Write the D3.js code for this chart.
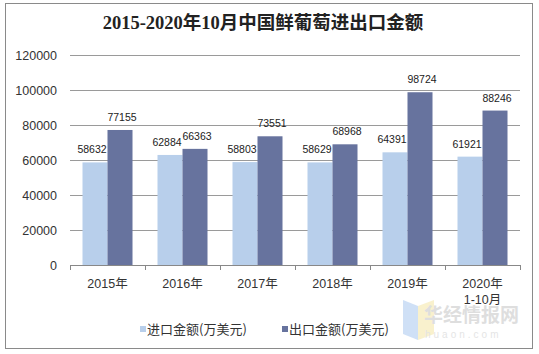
<!DOCTYPE html>
<html>
<head>
<meta charset="utf-8">
<script src="https://cdn.jsdelivr.net/npm/d3@7"></script>
<style>
  body { margin: 0; background: #fff; }
  svg { display: block; }
</style>
</head>
<body>
<div id="chart"></div>
<script>
const years = ["2015年", "2016年", "2017年", "2018年", "2019年", "2020年\n1-10月"];
const importVals = [58632, 62884, 58803, 58629, 64391, 61921];
const exportVals = [77155, 66363, 73551, 68968, 98724, 88246];
const seriesNames = ["进口金额(万美元)", "出口金额(万美元)"];
const yTicks = [0, 20000, 40000, 60000, 80000, 100000, 120000];

const width = 539, height = 354;
const colors = ["#b8cfeb", "#67739e"];

const svg = d3.select("#chart")
  .append("svg")
  .attr("width", width)
  .attr("height", height);

// 外框
svg.append("rect")
  .attr("x", 5.5).attr("y", 3.5)
  .attr("width", 527).attr("height", 345)
  .attr("fill", "#fff")
  .attr("stroke", "#8a8a8a");

// 标题
svg.append("text")
  .attr("x", 263).attr("y", 29)
  .attr("text-anchor", "middle")
  .attr("font-family", "'Liberation Serif', 'Noto Sans CJK SC', serif")
  .attr("font-weight", "bold")
  .attr("font-size", 18.5)
  .attr("fill", "#222")
  .text("2015-2020年10月中国鲜葡萄进出口金额");

const x = d3.scaleBand().domain(years).range([70, 520]).paddingInner(0).paddingOuter(0);
const x1 = d3.scaleBand().domain([0, 1]).range([0, x.bandwidth()]).paddingInner(0).paddingOuter(0.5);
const y = d3.scaleLinear().domain([0, 120000]).range([265, 55]);

// 网格线
svg.append("g")
  .selectAll("line")
  .data(yTicks.slice(1))
  .join("line")
  .attr("x1", 70).attr("x2", 520)
  .attr("y1", d => Math.round(y(d)) + 0.5)
  .attr("y2", d => Math.round(y(d)) + 0.5)
  .attr("stroke", "#9a9a9a");

// y轴标签
svg.append("g")
  .selectAll("text")
  .data(yTicks)
  .join("text")
  .attr("x", 57)
  .attr("y", d => y(d) + 4.5)
  .attr("text-anchor", "end")
  .attr("font-family", "'Liberation Sans', Arial, sans-serif")
  .attr("font-size", 12.5)
  .attr("fill", "#333")
  .text(d => d);

// 柱子
const groups = svg.append("g")
  .selectAll("g")
  .data(years.map((c, i) => ({ c, vals: [importVals[i], exportVals[i]] })))
  .join("g")
  .attr("transform", d => `translate(${x(d.c)},0)`);

groups.selectAll("rect")
  .data(d => d.vals)
  .join("rect")
  .attr("x", (d, i) => x1(i))
  .attr("width", x1.bandwidth())
  .attr("y", d => y(d))
  .attr("height", d => y(0) - y(d))
  .attr("fill", (d, i) => colors[i]);

// 数值标签，左右略微错开
groups.selectAll("text")
  .data(d => d.vals)
  .join("text")
  .attr("x", (d, i) => x1(i) + x1.bandwidth() / 2 + (i === 0 ? -3 : 2))
  .attr("y", d => y(d) - 9)
  .attr("text-anchor", "middle")
  .attr("font-family", "'Liberation Sans', Arial, sans-serif")
  .attr("font-size", 10.5)
  .attr("fill", "#222")
  .text(d => d);

// x轴
svg.append("line")
  .attr("x1", 70).attr("x2", 520)
  .attr("y1", 265.5).attr("y2", 265.5)
  .attr("stroke", "#888");

svg.append("g")
  .selectAll("line")
  .data(d3.range(years.length + 1))
  .join("line")
  .attr("x1", i => Math.round(70 + i * x.bandwidth()) + 0.5)
  .attr("x2", i => Math.round(70 + i * x.bandwidth()) + 0.5)
  .attr("y1", 265).attr("y2", 270)
  .attr("stroke", "#888");

const xl = svg.append("g")
  .selectAll("text")
  .data(years)
  .join("text")
  .attr("x", d => x(d) + x.bandwidth() / 2)
  .attr("y", 288)
  .attr("text-anchor", "middle")
  .attr("font-family", "'Liberation Sans', 'Noto Sans CJK SC', sans-serif")
  .attr("font-size", 12.5)
  .attr("fill", "#333");

xl.selectAll("tspan")
  .data(d => d.split("\n"))
  .join("tspan")
  .attr("x", function () { return d3.select(this.parentNode).attr("x"); })
  .attr("dy", (d, i) => i === 0 ? 0 : 16)
  .text(d => d);

// 水印
const wm = svg.append("g").attr("opacity", 0.55);
wm.append("path")
  .attr("d", "M403,300 L418,306 L418,340 L403,334 Z")
  .attr("fill", "#a9c8f0");
wm.append("path")
  .attr("d", "M418,306 L434,300 L434,334 L418,340 Z")
  .attr("fill", "#f5e6a6");
wm.append("text")
  .attr("x", 424).attr("y", 322)
  .attr("font-family", "'Noto Sans CJK SC', sans-serif")
  .attr("font-weight", "bold")
  .attr("font-size", 19)
  .attr("fill", "#c4c4c4")
  .text("华经情报网");
wm.append("text")
  .attr("x", 425).attr("y", 338)
  .attr("font-family", "'Liberation Sans', sans-serif")
  .attr("font-size", 10)
  .attr("letter-spacing", 3)
  .attr("fill", "#cfcfcf")
  .text("huaon.com");

// 图例
const legendX = [140, 282];
const legend = svg.append("g")
  .selectAll("g")
  .data(seriesNames)
  .join("g")
  .attr("transform", (d, i) => `translate(${legendX[i]},330)`);

legend.append("rect")
  .attr("x", 0).attr("y", -4)
  .attr("width", 6).attr("height", 6)
  .attr("fill", (d, i) => colors[i]);

legend.append("text")
  .attr("x", 7).attr("y", 4)
  .attr("font-family", "'Noto Sans CJK SC', sans-serif")
  .attr("font-size", 13)
  .attr("fill", "#333")
  .text(d => d);
</script>
</body>
</html>
